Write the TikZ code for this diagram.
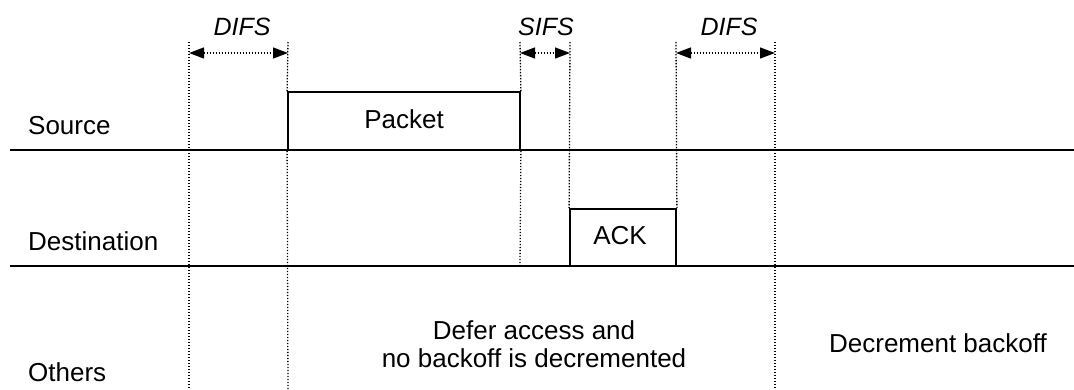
\documentclass[tikz,border=0pt]{standalone}
\usepackage{fontspec}
\setmainfont{Liberation Sans}
\usetikzlibrary{arrows.meta}
\tikzset{
  lbl/.style={anchor=base, inner sep=0pt, font=\fontsize{26}{31}\selectfont},
  lbll/.style={anchor=base west, inner sep=0pt, font=\fontsize{26}{31}\selectfont},
  ital/.style={anchor=base, inner sep=0pt, font=\fontsize{25}{30}\selectfont\itshape},
  timeline/.style={line width=1.8pt},
  frame/.style={draw, line width=1.8pt, inner sep=0pt},
  guide/.style={line width=1.3pt, dash pattern=on 1.3pt off 1.7pt},
  span/.style={line width=1.3pt, dash pattern=on 1.3pt off 1.7pt,
    {Triangle[length=15pt,width=11pt]}-{Triangle[length=15pt,width=11pt]}}
}
\begin{document}
\begin{tikzpicture}[x=1pt,y=-1pt]
\useasboundingbox (0,0) rectangle (1074,390);
% timelines
\coordinate (sL) at (10,150);  \coordinate (sR) at (1074,150);
\coordinate (dL) at (10,266);  \coordinate (dR) at (1074,266);
\draw[timeline] (sL) -- (sR);
\draw[timeline] (dL) -- (dR);
% frames
\node[frame, minimum width=232pt, minimum height=58pt] (packet) at (404,121) {};
\node[frame, minimum width=106pt, minimum height=57pt] (ack) at (623,237.5) {};
% guide coordinates
\coordinate (t1) at (189,42); \coordinate (b1) at (189,390);
\coordinate (t2) at (288,42); \coordinate (b2) at (288,390);
\coordinate (t3) at (520,42); \coordinate (b3) at (520,266);
\coordinate (t4) at (570,42);
\coordinate (t5) at (676,42);
\coordinate (t6) at (775,42); \coordinate (b6) at (775,390);
\draw[guide] (t1) -- (b1);
\draw[guide] (t2) -- (packet.north west);
\draw[guide] (packet.south west) -- (b2);
\draw[guide] (t3) -- (packet.north east);
\draw[guide] (packet.south east) -- (b3);
\draw[guide] (t4) -- (ack.north west);
\draw[guide] (t5) -- (ack.north east);
\draw[guide] (t6) -- (b6);
% interval arrows
\coordinate (a1) at (189,53); \coordinate (a2) at (288,53);
\coordinate (a3) at (520,53); \coordinate (a4) at (570,53);
\coordinate (a5) at (676,53); \coordinate (a6) at (775,53);
\draw[span] (a1) -- (a2);
\draw[span] (a3) -- (a4);
\draw[span] (a5) -- (a6);
% labels
\node[ital] (difs1) at (242,36) {DIFS};
\node[ital] (sifs) at (546,36) {SIFS};
\node[ital] (difs2) at (729,36) {DIFS};
\node[lbll] (src) at (28,135) {Source};
\node[lbll] (dst) at (28,251) {Destination};
\node[lbll] (oth) at (28,381) {Others};
\node[lbl] (ptxt) at (404,129) {Packet};
\node[lbl] (atxt) at (620,245) {ACK};
\node[lbl] (defer1) at (534,339) {Defer access and};
\node[lbl] (defer2) at (534,367) {no backoff is decremented};
\node[lbl] (decr) at (938,352) {Decrement backoff};
\end{tikzpicture}
\end{document}
